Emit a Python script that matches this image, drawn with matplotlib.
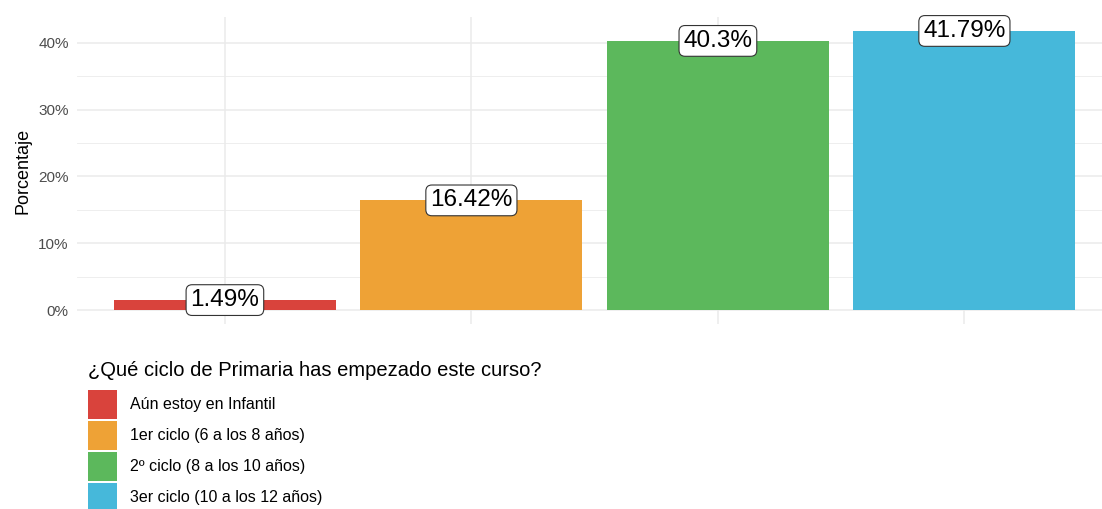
import matplotlib
matplotlib.use('Agg')

import matplotlib.pyplot as plt
from matplotlib.patches import Patch
from matplotlib.ticker import FixedLocator

plt.rcParams['font.family'] = ['Liberation Sans', 'DejaVu Sans']

# Data
categories = ["Aún estoy en Infantil", "1er ciclo (6 a los 8 años)",
              "2º ciclo (8 a los 10 años)", "3er ciclo (10 a los 12 años)"]
values = [1.49, 16.42, 40.30, 41.79]
labels = ["1.49%", "16.42%", "40.3%", "41.79%"]
colors = ["#D9433C", "#EEA236", "#5CB85C", "#46B8DA"]
legend_title = "¿Qué ciclo de Primaria has empezado este curso?"

W, H = 1102, 509
fig = plt.figure(figsize=(W / 100, H / 100), dpi=100)
# panel: x from 77px to right edge, y from 17px to 324px (top-origin)
ax = fig.add_axes([77 / W, (H - 324) / H, (W - 77) / W, (324 - 17) / H])

x = list(range(1, len(values) + 1))
ax.bar(x, values, width=0.9, color=colors, zorder=2)

for xi, v, lab in zip(x, values, labels):
    ax.text(xi, v, lab, ha='center', va='center', fontsize=17.5, color='black', zorder=3,
            bbox=dict(boxstyle='round,pad=0.18,rounding_size=0.25', fc='white',
                      ec='#333333', lw=0.8))

ax.set_xlim(0.4, 0.4 + (W - 77) / 246.5)
ax.set_ylim(-2.09, 43.88)
ax.set_xticks(x)
ax.set_xticklabels([])
ax.set_yticks([0, 10, 20, 30, 40])
ax.set_yticklabels(["0%", "10%", "20%", "30%", "40%"], color='#4D4D4D', fontsize=11)
ax.yaxis.set_minor_locator(FixedLocator([5, 15, 25, 35]))
ax.tick_params(length=0, which='both', pad=6)

ax.grid(True, which='major', color='#EBEBEB', lw=1.1, zorder=0)
ax.grid(True, which='minor', axis='y', color='#EBEBEB', lw=0.6, zorder=0)
for s in ax.spines.values():
    s.set_visible(False)
ax.set_ylabel("Porcentaje", fontsize=13, labelpad=5)

# legend below the panel, title as separate text (ggplot-like spacing)
fig.text(88 / W, 1 - 370.5 / H, legend_title, fontsize=14.5, va='center', ha='left')
handles = [Patch(facecolor=c, edgecolor='none') for c in colors]
leg = fig.legend(handles, categories, loc='upper left',
                 bbox_to_anchor=(88 / W, 1 - 390 / H), frameon=False,
                 fontsize=11.5, borderpad=0, borderaxespad=0,
                 handlelength=1.816, handleheight=2.419, labelspacing=0.12,
                 handletextpad=0.8)

fig.savefig("out.png", dpi=100)
plt.close(fig)
